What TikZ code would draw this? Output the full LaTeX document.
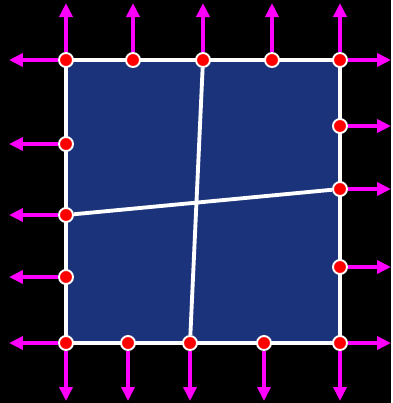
\documentclass[tikz,border=0pt]{standalone}
\usepackage{xcolor}
\usepackage{tikz}
\usetikzlibrary{calc,positioning,arrows.meta}

\definecolor{panelblue}{RGB}{27,51,122}
\definecolor{pullpink}{RGB}{255,0,255}

\begin{document}
\begin{tikzpicture}[
        x=0.02cm, y=-0.02cm,
        dot/.style={
            circle,
            fill=red,
            draw=white,
            line width=1.1pt,
            minimum size=0.28cm,
            inner sep=0pt
        },
        edge/.style={white, line width=2.2pt},
        pull/.style={
            pullpink,
            line width=2.2pt,
            -{Triangle[length=0.28cm,width=0.26cm]}
        }
    ]
        % background and panel
        \fill[black] (0,0) rectangle (391,403);
        \fill[panelblue] (66,60) rectangle (340,343);
        \draw[edge] (66,60) rectangle (340,343);

        % points on the boundary
        \node[dot] (tl) at (66,60) {};
        \node[dot] (t2) at (133,60) {};
        \node[dot] (t3) at (203,60) {};
        \node[dot] (t4) at (272,60) {};
        \node[dot] (tr) at (340,60) {};
        \node[dot] (bl) at (66,343) {};
        \node[dot] (b2) at (128,343) {};
        \node[dot] (b3) at (190,343) {};
        \node[dot] (b4) at (264,343) {};
        \node[dot] (br) at (340,343) {};
        \node[dot] (l2) at (66,144) {};
        \node[dot] (l3) at (66,215) {};
        \node[dot] (l4) at (66,277) {};
        \node[dot] (r2) at (340,126) {};
        \node[dot] (r3) at (340,189) {};
        \node[dot] (r4) at (340,267) {};

        % inner cuts
        \draw[edge] (t3) -- (b3);
        \draw[edge] (l3) -- (r3);

        % free ends
        \coordinate (tlU) at (66,3);
        \coordinate (t2U) at (133,3);
        \coordinate (t3U) at (203,3);
        \coordinate (t4U) at (272,3);
        \coordinate (trU) at (340,3);
        \coordinate (blD) at (66,401);
        \coordinate (b2D) at (128,401);
        \coordinate (b3D) at (190,401);
        \coordinate (b4D) at (264,401);
        \coordinate (brD) at (340,401);
        \coordinate (tlL) at (9,60);
        \coordinate (l2L) at (9,144);
        \coordinate (l3L) at (9,215);
        \coordinate (l4L) at (9,277);
        \coordinate (blL) at (9,343);
        \coordinate (trR) at (391,60);
        \coordinate (r2R) at (391,126);
        \coordinate (r3R) at (391,189);
        \coordinate (r4R) at (391,267);
        \coordinate (brR) at (391,343);

        % outward pulls
        \draw[pull] (tl) -- (tlU);
        \draw[pull] (t2) -- (t2U);
        \draw[pull] (t3) -- (t3U);
        \draw[pull] (t4) -- (t4U);
        \draw[pull] (tr) -- (trU);
        \draw[pull] (bl) -- (blD);
        \draw[pull] (b2) -- (b2D);
        \draw[pull] (b3) -- (b3D);
        \draw[pull] (b4) -- (b4D);
        \draw[pull] (br) -- (brD);
        \draw[pull] (tl) -- (tlL);
        \draw[pull] (l2) -- (l2L);
        \draw[pull] (l3) -- (l3L);
        \draw[pull] (l4) -- (l4L);
        \draw[pull] (bl) -- (blL);
        \draw[pull] (tr) -- (trR);
        \draw[pull] (r2) -- (r2R);
        \draw[pull] (r3) -- (r3R);
        \draw[pull] (r4) -- (r4R);
        \draw[pull] (br) -- (brR);
    \end{tikzpicture}
\end{document}
